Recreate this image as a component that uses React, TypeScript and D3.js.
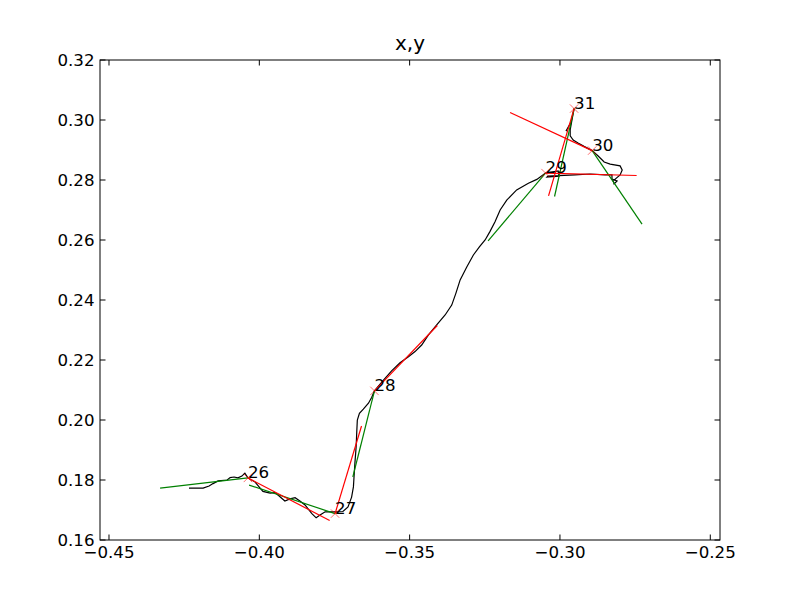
import React from "react";
import * as d3 from "d3";

const X_TICKS = [-0.45, -0.4, -0.35, -0.3, -0.25];
const Y_TICKS = [0.16, 0.18, 0.2, 0.22, 0.24, 0.26, 0.28, 0.3, 0.32];
const X_DOMAIN = [-0.45299, -0.24677];
const Y_DOMAIN = [0.16, 0.32];

const pathX = [
  -0.4234, -0.4187, -0.4167, -0.4154, -0.4137, -0.4107, -0.4097, -0.4084, -0.4071, -0.4058, -0.4048, -0.4038,
  -0.4014, -0.3988, -0.3964, -0.3948, -0.3938, -0.3915, -0.3898, -0.3881, -0.3865, -0.3848, -0.3826, -0.3811,
  -0.3798, -0.3781, -0.3748, -0.3722, -0.3705, -0.3693, -0.3687, -0.3685, -0.3682, -0.3678, -0.3676, -0.3674,
  -0.3667, -0.3654, -0.3637, -0.3626, -0.3617, -0.3587, -0.356, -0.3532, -0.3504, -0.3482, -0.346, -0.3438,
  -0.341, -0.3382, -0.336, -0.3346, -0.3332, -0.331, -0.3288, -0.3268, -0.3249, -0.3233, -0.3216, -0.3199,
  -0.3177, -0.3144, -0.3105, -0.3077, -0.3048, -0.3006, -0.3003, -0.3043, -0.304, -0.295, -0.29, -0.285,
  -0.2827, -0.2827, -0.281, -0.282, -0.2823, -0.28, -0.2793, -0.28, -0.2833, -0.2853, -0.2873, -0.2893,
  -0.292, -0.294, -0.2956, -0.2966, -0.2966, -0.296, -0.2953, -0.2963, -0.298,
];
const pathY = [
  0.1773, 0.1773, 0.178, 0.1788, 0.1797, 0.18, 0.1808, 0.181, 0.1807, 0.1813, 0.1823, 0.1807,
  0.1793, 0.1762, 0.1756, 0.1758, 0.175, 0.173, 0.1737, 0.1741, 0.173, 0.1717, 0.1689, 0.1674,
  0.1683, 0.1694, 0.1694, 0.1695, 0.171, 0.1743, 0.1777, 0.181, 0.1857, 0.191, 0.1957, 0.2,
  0.2022, 0.2036, 0.2056, 0.2076, 0.2097, 0.2133, 0.2164, 0.2191, 0.2211, 0.2228, 0.225, 0.2283,
  0.2317, 0.235, 0.2383, 0.2423, 0.2467, 0.251, 0.255, 0.2577, 0.26, 0.2628, 0.2661, 0.27,
  0.2733, 0.2767, 0.2789, 0.2802, 0.2823, 0.283, 0.2813, 0.281, 0.2813, 0.2817, 0.282, 0.2817,
  0.2817, 0.2803, 0.2797, 0.2787, 0.2797, 0.2817, 0.2833, 0.2847, 0.2853, 0.286, 0.288, 0.2898,
  0.2912, 0.2923, 0.2933, 0.2947, 0.2967, 0.3, 0.3038, 0.2993, 0.2963,
];

const labels = ["26", "27", "28", "29", "30", "31"];
const pointX = [-0.4038, -0.3748, -0.3617, -0.3048, -0.2893, -0.2953];
const pointY = [0.1807, 0.1688, 0.2097, 0.2823, 0.2898, 0.3038];
const greenStartX = [-0.433, -0.4034, -0.3689, -0.3239, -0.2727, -0.3018];
const greenStartY = [0.1773, 0.1783, 0.181, 0.2597, 0.2653, 0.2745];
const redEndX = [-0.3766, -0.366, -0.3408, -0.2745, -0.3166, -0.3038];
const redEndY = [0.1665, 0.198, 0.2315, 0.2815, 0.3025, 0.2747];

const W = 800, H = 600;
const L = 100, R = 720, T = 60, B = 540;
const FONT = "DejaVu Sans, sans-serif";
const FS = 16.67;

export default function App() {
  const x = d3.scaleLinear().domain(X_DOMAIN).range([L, R]);
  const y = d3.scaleLinear().domain(Y_DOMAIN).range([B, T]);
  const fmt = d3.format(".2f");
  const line = d3.line<number>().x((i) => x(pathX[i])).y((i) => y(pathY[i]));
  const idx = pathX.map((_, i) => i);
  const tickLen = 5.5;
  const ms = 4.2;

  return (
    <div style={{ position: "fixed", left: 0, top: 0 }}>
      <svg width={W} height={H} style={{ display: "block", background: "#fff" }}>
        <defs>
          <clipPath id="clip">
            <rect x={L} y={T} width={R - L} height={B - T} />
          </clipPath>
        </defs>
        <rect x={0} y={0} width={W} height={H} fill="#fff" />
        <g clipPath="url(#clip)">
          <path d={line(idx) || ""} fill="none" stroke="#000" strokeWidth={1.2} />
          {labels.map((_, i) => (
            <line key={"g" + i} x1={x(greenStartX[i])} y1={y(greenStartY[i])} x2={x(pointX[i])} y2={y(pointY[i])}
              stroke="#008000" strokeWidth={1.2} />
          ))}
          {labels.map((_, i) => (
            <line key={"r" + i} x1={x(pointX[i])} y1={y(pointY[i])} x2={x(redEndX[i])} y2={y(redEndY[i])}
              stroke="#ff0000" strokeWidth={1.2} />
          ))}
          {labels.map((_, i) => {
            const cx = x(pointX[i]), cy = y(pointY[i]);
            return (
              <g key={"m" + i} stroke="#ff0000" strokeWidth={0.7} opacity={0.8}>
                <line x1={cx - ms} y1={cy - ms} x2={cx + ms} y2={cy + ms} />
                <line x1={cx - ms} y1={cy + ms} x2={cx + ms} y2={cy - ms} />
              </g>
            );
          })}
        </g>
        {labels.map((s, i) => (
          <text key={"t" + i} x={x(pointX[i])} y={y(pointY[i])} fontFamily={FONT} fontSize={FS} fill="#000">
            {s}
          </text>
        ))}
        {X_TICKS.map((t) => (
          <g key={"xt" + t}>
            <line x1={x(t)} x2={x(t)} y1={B} y2={B - tickLen} stroke="#000" strokeWidth={1} />
            <line x1={x(t)} x2={x(t)} y1={T} y2={T + tickLen} stroke="#000" strokeWidth={1} />
            <text x={x(t)} y={B + 18} textAnchor="middle" fontFamily={FONT} fontSize={FS} fill="#000">
              {fmt(t)}
            </text>
          </g>
        ))}
        {Y_TICKS.map((t) => (
          <g key={"yt" + t}>
            <line x1={L} x2={L + tickLen} y1={y(t)} y2={y(t)} stroke="#000" strokeWidth={1} />
            <line x1={R} x2={R - tickLen} y1={y(t)} y2={y(t)} stroke="#000" strokeWidth={1} />
            <text x={L - 5.5} y={y(t)} dy="0.36em" textAnchor="end" fontFamily={FONT} fontSize={FS} fill="#000">
              {fmt(t)}
            </text>
          </g>
        ))}
        <rect x={L} y={T} width={R - L} height={B - T} fill="none" stroke="#000" strokeWidth={1} />
        <text x={(L + R) / 2} y={T - 10} textAnchor="middle" fontFamily={FONT} fontSize={20} fill="#000">
          x,y
        </text>
      </svg>
    </div>
  );
}
